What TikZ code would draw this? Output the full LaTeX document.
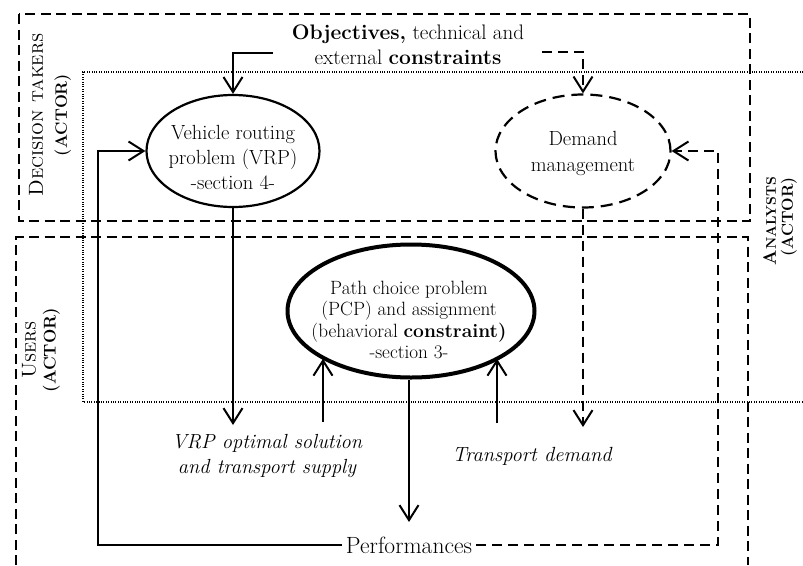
\documentclass[tikz,border=0pt]{standalone}
\usetikzlibrary{arrows.meta,shapes.geometric}

\tikzset{
  actorbox/.style={line width=1.6pt, dash pattern=on 10pt off 5.5pt},
  analystbox/.style={line width=1.1pt, dash pattern=on 1pt off 1.4pt},
  flow/.style={line width=2pt, -{Straight Barb[length=15pt,width=19pt]}},
  dflow/.style={flow, dash pattern=on 10pt off 6pt},
  vrpshape/.style={draw, ellipse, line width=2.2pt, minimum width=173pt, minimum height=112pt, inner sep=0pt},
  demshape/.style={draw, ellipse, line width=2.2pt, dash pattern=on 12pt off 7pt, minimum width=175pt, minimum height=113pt, inner sep=0pt},
  pcpshape/.style={draw, ellipse, line width=4pt, minimum width=247pt, minimum height=133pt, inner sep=0pt},
  txt/.style={align=center, inner sep=0pt},
  lbl/.style={align=center, inner sep=0pt},
}

\begin{document}
\begin{tikzpicture}[x=1pt, y=-1pt]
\useasboundingbox (0,0) rectangle (803,565);

% actor frames
\draw[actorbox] (19,14) rectangle (750,221);
\draw[actorbox] (16,565) -- (16,237) -- (748,237) -- (748,565);
\draw[analystbox] (803,72) -- (83,72) -- (83,402) -- (803,402);

% actor labels
\node[lbl, rotate=90, font={\fontsize{20.3}{25}\selectfont}] (dtlabel) at (50,115)
  {\textsc{Decision takers}\\[-1pt]
   \fontsize{16.5}{25}\selectfont\textbf{(ACTOR)}};
\node[lbl, rotate=90, font={\fontsize{20}{21}\selectfont}] (uslabel) at (41,350)
  {\textsc{Users}\\[-1pt]
   \fontsize{17}{21}\selectfont\textbf{(ACTOR)}};
\node[lbl, rotate=90, align=right, anchor=north east, font={\bfseries\fontsize{18}{17}\selectfont}] (anlabel) at (763,177)
  {A{\fontsize{14}{17}\selectfont NALYSTS}\\
   \fontsize{16}{17}\selectfont (ACTOR)};

% process ellipses
\node[vrpshape] (vrp) at (233,151) {};
\node[txt, font={\fontsize{20.5}{25}\selectfont}] (vrptext) at (233,157)
  {Vehicle routing\\problem (VRP)\\-section 4-};
\node[demshape] (dem) at (583,151) {};
\node[txt, font={\fontsize{20.5}{26}\selectfont}] (demtext) at (583,153)
  {Demand\\management};
\node[pcpshape] (pcp) at (411,311) {};
\node[txt, font={\fontsize{19.2}{21.5}\selectfont}] (pcptext) at (409,320)
  {Path choice problem\\(PCP) and assignment\\(behavioral \textbf{constraint)}\\-section 3-};

% inputs and outputs
\node[txt, font={\fontsize{21}{25}\selectfont}] (obj) at (408,45)
  {\textbf{Objectives,} technical and\\external \textbf{constraints}};
\node[txt, font={\fontsize{20.4}{25}\selectfont\itshape}] (supply) at (267,456)
  {VRP optimal solution\\and transport supply};
\node[txt, font={\fontsize{20.5}{25}\selectfont\itshape}] (tdemand) at (532,456)
  {Transport demand};
\node[txt, inner xsep=4pt, font={\fontsize{23.5}{25}\selectfont}] (perf) at (409,545)
  {Performances};

% connector end points
\coordinate (objL) at (273,53);
\coordinate (objR) at (542,52);
\coordinate (vrpTip) at (233,425);
\coordinate (supUp) at (323,422);
\coordinate (demUp) at (497,423);
\coordinate (pcpTip) at (409,522);
\coordinate (demTip) at (583,427);
\coordinate (fbL) at (98,151);
\coordinate (fbR) at (718,151);

% connectors
\draw[flow] (objL) -| (vrp.north);
\draw[dflow] (objR) -| (dem.north);
\draw[flow] (vrp.south) -- (vrpTip);
\draw[flow] (supUp) -- (supUp |- pcp.208);
\draw[flow] (demUp) -- (demUp |- pcp.-28);
\draw[flow] (pcp.south -| pcpTip) -- (pcpTip);
\draw[dflow] (dem.south) -- (demTip);
\draw[flow] (perf.west) -| (fbL) -- (vrp.west);
\draw[dflow] (perf.east) -| (fbR) -- (dem.east);
\end{tikzpicture}
\end{document}
